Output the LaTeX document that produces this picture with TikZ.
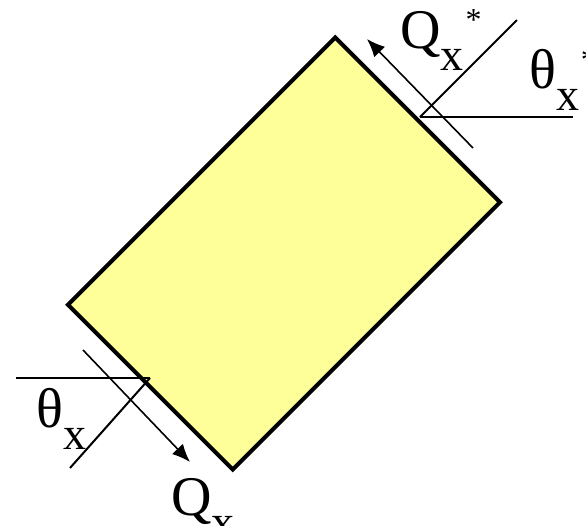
\documentclass[tikz,border=0pt]{standalone}
\usepackage{fontspec}
\setmainfont{Liberation Serif}
\usetikzlibrary{arrows.meta}
\definecolor{plateYellow}{RGB}{255, 255, 153}
\newcommand{\sub}[1]{\raisebox{-0.4em}{\fontsize{23}{26}\selectfont #1}}
\newcommand{\starmark}{\kern0.03em\raisebox{9pt}{\fontsize{16}{18}\selectfont *}}

\begin{document}
\begin{tikzpicture}[
  x=0.5pt,y=-0.5pt,
  platebox/.style={
    draw,
    line width=2pt,
    fill=plateYellow,
    rotate=45,
    inner sep=0pt,
    minimum width=189pt,
    minimum height=116.5pt
  },
  thinline/.style={line width=1pt},
  forcearrow/.style={-{Latex[length=9pt,width=7.5pt]},line width=0.8pt},
  lbl/.style={inner sep=0pt,anchor=base west,font=\fontsize{28}{32}\selectfont}
]
  \useasboundingbox (0,0) rectangle (586,526);
  \node[platebox] (plate) at (284,253.5) {};
  \coordinate (toppivot) at (420,117);
  \coordinate (tophoriz) at (573,117);
  \coordinate (topdiag) at (517,20);
  \coordinate (topforce) at (473,148);
  \coordinate (topforcetip) at (367,39);
  \coordinate (botpivot) at (150,378);
  \coordinate (bothoriz) at (16,378);
  \coordinate (botdiag) at (70,468);
  \coordinate (botforce) at (83,350);
  \coordinate (botforcetip) at (190,462);
  \draw[thinline] (toppivot) -- (tophoriz);
  \draw[thinline] (toppivot) -- (topdiag);
  \draw[forcearrow] (topforce) -- (topforcetip);
  \draw[thinline] (bothoriz) -- (botpivot);
  \draw[thinline] (botpivot) -- (botdiag);
  \draw[forcearrow] (botforce) -- (botforcetip);
  \node[lbl] (qstar) at (400,48) {Q\sub{x}\starmark};
  \node[lbl] (thetastar) at (529,88) {θ\sub{x}\starmark};
  \node[lbl] (theta) at (36,427) {θ\sub{x}};
  \node[lbl] (q) at (171,515) {Q\sub{x}};
\end{tikzpicture}
\end{document}
